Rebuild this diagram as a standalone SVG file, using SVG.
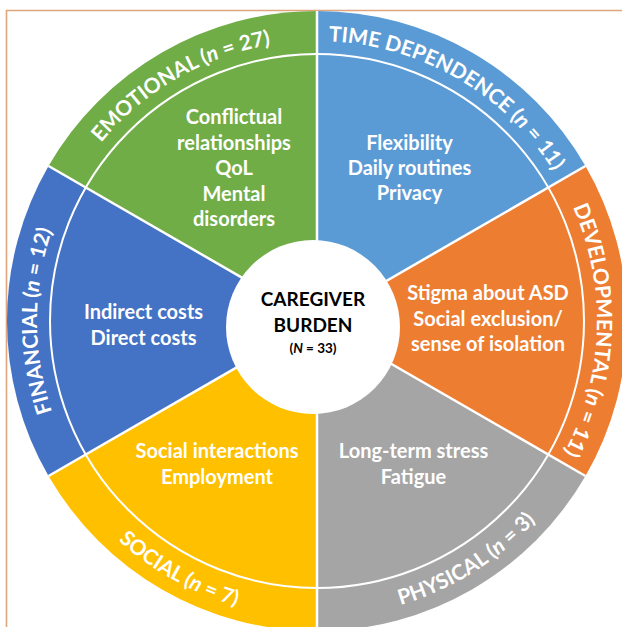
<svg xmlns="http://www.w3.org/2000/svg" width="622" height="627" viewBox="0 0 622 627">
<style>
.frame{fill:none;stroke:#DFA57C;stroke-width:1.6}
.sep{stroke:#FFFFFF;stroke-width:2.5;fill:none}
.ring{fill:none;stroke:#FFFFFF;stroke-width:2}
.lbl{font-family:Lato,"Open Sans","Liberation Sans",sans-serif;font-weight:700;font-size:21px;fill:#FFFFFF}
.txt{font-family:Lato,"Open Sans","Liberation Sans",sans-serif;font-weight:700;font-size:20px;fill:#FFFFFF;text-anchor:middle}
.ctr{font-family:Lato,"Open Sans","Liberation Sans",sans-serif;font-weight:700;font-size:19px;fill:#000000;text-anchor:middle}
.it{font-style:italic}
</style>
<defs>
<path id="pEmo" d="M38.07,296.60 A280,280 0 0 1 435.33,67.23"/>
<path id="pTime" d="M198.67,67.23 A280,280 0 0 1 595.93,296.60"/>
<path id="pDev" d="M485.51,97.38 A280,280 0 0 1 469.50,555.83"/>
<path id="pFin" d="M156.40,550.36 A280,280 0 0 1 156.40,91.64"/>
<path id="pSoc" d="M22.62,351.94 A296,296 0 0 0 446.76,587.04"/>
<path id="pPhy" d="M201.34,593.47 A296,296 0 0 0 612.59,336.49"/>
</defs>
<rect width="622" height="627" fill="#FFFFFF"/>
<path class="frame" d="M6.5,627 V10.5 H622"/>

<g id="emotional">
<path d="M317,321 L317,11 A310,310 0 0 0 48.53,166 Z" fill="#70AD47"/>
<text class="lbl"><textPath href="#pEmo" startOffset="50%" text-anchor="middle">EMOTIONAL (<tspan class="it">n</tspan> = 27)</textPath></text>
<text class="txt" x="234" y="124">Conflictual</text>
<text class="txt" x="234" y="149.5">relationships</text>
<text class="txt" x="234" y="175">QoL</text>
<text class="txt" x="234" y="200.5">Mental</text>
<text class="txt" x="234" y="226">disorders</text>
</g>

<g id="time-dependence">
<path d="M317,321 L585.47,166 A310,310 0 0 0 317,11 Z" fill="#5B9BD5"/>
<text class="lbl"><textPath href="#pTime" startOffset="50%" text-anchor="middle">TIME DEPENDENCE (<tspan class="it">n</tspan> = 11)</textPath></text>
<text class="txt" x="409.5" y="150">Flexibility</text>
<text class="txt" x="409.5" y="175">Daily routines</text>
<text class="txt" x="409.5" y="200">Privacy</text>
</g>

<g id="developmental">
<path d="M317,321 L585.47,476 A310,310 0 0 0 585.47,166 Z" fill="#ED7D31"/>
<text class="lbl"><textPath href="#pDev" startOffset="50%" text-anchor="middle">DEVELOPMENTAL (<tspan class="it">n</tspan> = 11)</textPath></text>
<text class="txt" x="488" y="300">Stigma about ASD</text>
<text class="txt" x="488" y="325.5">Social exclusion/</text>
<text class="txt" x="488" y="351">sense of isolation</text>
</g>

<g id="physical">
<path d="M317,321 L317,631 A310,310 0 0 0 585.47,476 Z" fill="#A5A5A5"/>
<text class="lbl"><textPath href="#pPhy" startOffset="50%" text-anchor="middle">PHYSICAL (<tspan class="it">n</tspan> = 3)</textPath></text>
<text class="txt" x="413.5" y="458">Long-term stress</text>
<text class="txt" x="413.5" y="484">Fatigue</text>
</g>

<g id="social">
<path d="M317,321 L48.53,476 A310,310 0 0 0 317,631 Z" fill="#FFC000"/>
<text class="lbl"><textPath href="#pSoc" startOffset="50%" text-anchor="middle">SOCIAL (<tspan class="it">n</tspan> = 7)</textPath></text>
<text class="txt" x="217" y="458">Social interactions</text>
<text class="txt" x="217" y="484">Employment</text>
</g>

<g id="financial">
<path d="M317,321 L48.53,166 A310,310 0 0 0 48.53,476 Z" fill="#4472C4"/>
<text class="lbl"><textPath href="#pFin" startOffset="50%" text-anchor="middle">FINANCIAL (<tspan class="it">n</tspan> = 12)</textPath></text>
<text class="txt" x="143.5" y="319">Indirect costs</text>
<text class="txt" x="143.5" y="345">Direct costs</text>
</g>

<g id="connectors">
<line class="sep" x1="317" y1="321" x2="317" y2="11"/>
<line class="sep" x1="317" y1="321" x2="585.47" y2="166"/>
<line class="sep" x1="317" y1="321" x2="585.47" y2="476"/>
<line class="sep" x1="317" y1="321" x2="317" y2="631"/>
<line class="sep" x1="317" y1="321" x2="48.53" y2="476"/>
<line class="sep" x1="317" y1="321" x2="48.53" y2="166"/>
<circle class="ring" cx="317" cy="321" r="267"/>
</g>

<g id="caregiver-burden">
<circle cx="313" cy="327" r="87" fill="#FFFFFF"/>
<text class="ctr" x="313" y="306">CAREGIVER</text>
<text class="ctr" x="313" y="332">BURDEN</text>
<text class="ctr" x="313" y="353" style="font-size:13.5px">(<tspan class="it">N</tspan> = 33)</text>
</g>
</svg>
